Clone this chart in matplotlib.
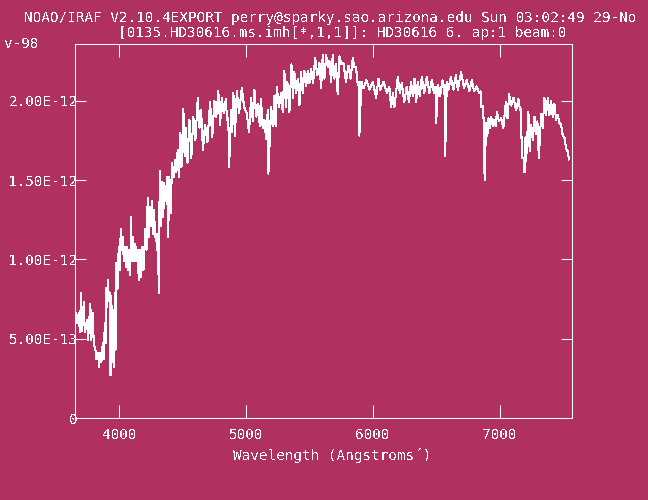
import matplotlib
matplotlib.use('Agg')
import matplotlib.pyplot as plt

# spectrum (wavelength in Angstroms, flux in units of 1e-12)
wave = [
    3658, 3666, 3680, 3688, 3698, 3706, 3719, 3727, 3745, 3753,
    3771, 3779, 3790, 3798, 3811, 3819, 3832, 3840, 3850, 3858,
    3869, 3877, 3885, 3891, 3897, 3904, 3911, 3917, 3924, 3930,
    3937, 3943, 3950, 3957, 3964, 3970, 3976, 3985, 3995, 4003,
    4011, 4019, 4027, 4035, 4043, 4051, 4061, 4069, 4079, 4085,
    4092, 4100, 4108, 4116, 4126, 4135, 4145, 4153, 4161, 4169,
    4179, 4190, 4205, 4214, 4224, 4232, 4240, 4248, 4258, 4266,
    4274, 4282, 4290, 4297, 4305, 4311, 4319, 4328, 4337, 4346,
    4355, 4365, 4376, 4385, 4395, 4405, 4416, 4428, 4442, 4450,
    4460, 4469, 4479, 4490, 4505, 4515, 4526, 4538, 4553, 4568,
    4584, 4600, 4619, 4632, 4645, 4660, 4676, 4695, 4716, 4733,
    4750, 4765, 4781, 4795, 4808, 4824, 4840, 4850, 4860, 4866,
    4882, 4891, 4900, 4912, 4927, 4945, 4966, 4985, 5006, 5023,
    5040, 5053, 5066, 5081, 5097, 5108, 5118, 5131, 5145, 5158,
    5171, 5176, 5197, 5210, 5223, 5233, 5242, 5259, 5276, 5289,
    5302, 5314, 5326, 5342, 5358, 5370, 5381, 5395, 5408, 5421,
    5434, 5447, 5460, 5474, 5487, 5500, 5513, 5529, 5545, 5562,
    5579, 5592, 5605, 5618, 5632, 5645, 5658, 5671, 5684, 5697,
    5710, 5723, 5737, 5752, 5768, 5788, 5808, 5825, 5842, 5855,
    5868, 5881, 5890, 5894, 5910, 5926, 5950, 5973, 6000, 6026,
    6045, 6058, 6085, 6111, 6130, 6145, 6160, 6171, 6197, 6213,
    6229, 6248, 6268, 6285, 6302, 6316, 6329, 6342, 6355, 6371,
    6387, 6406, 6426, 6446, 6466, 6483, 6496, 6500, 6515, 6531,
    6550, 6565, 6568, 6571, 6584, 6597, 6616, 6636, 6655, 6671,
    6697, 6720, 6742, 6762, 6781, 6800, 6821, 6838, 6850, 6855,
    6868, 6872, 6879, 6882, 6894, 6904, 6913, 6924, 6934, 6947,
    6960, 6970, 6979, 6996, 7013, 7030, 7050, 7063, 7076, 7093,
    7110, 7130, 7149, 7162, 7170, 7176, 7190, 7197, 7205, 7210,
    7228, 7238, 7250, 7263, 7276, 7288, 7299, 7310, 7329, 7341,
    7354, 7367, 7381, 7394, 7407, 7420, 7433, 7446, 7460, 7473,
    7486, 7499, 7512, 7525, 7539, 7548,
]
flux = [
    0.66, 0.60, 0.66, 0.54, 0.79, 0.55, 0.73, 0.54, 0.62, 0.49,
    0.72, 0.49, 0.66, 0.47, 0.43, 0.37, 0.41, 0.32, 0.41, 0.35,
    0.47, 0.37, 0.60, 0.47, 0.82, 0.70, 0.87, 0.74, 0.79, 0.27,
    0.77, 0.35, 0.68, 0.32, 0.79, 0.43, 0.98, 0.81, 1.08, 0.93,
    1.19, 1.06, 1.14, 0.99, 1.08, 0.95, 1.08, 0.93, 1.06, 0.90,
    1.27, 0.99, 1.14, 0.99, 1.10, 0.99, 1.06, 0.87, 1.06, 0.89,
    1.08, 0.93, 1.19, 1.06, 1.39, 1.14, 1.33, 1.21, 1.37, 1.16,
    1.31, 1.14, 1.16, 1.06, 1.16, 0.79, 1.56, 1.21, 1.49, 1.27,
    1.48, 1.37, 1.52, 1.14, 1.52, 1.29, 1.61, 1.52, 1.63, 1.55,
    1.69, 1.52, 1.80, 1.58, 1.95, 1.65, 1.83, 1.61, 1.88, 1.64,
    1.90, 1.75, 2.02, 1.83, 1.94, 1.69, 1.85, 1.74, 1.99, 1.77,
    2.00, 1.90, 2.06, 1.85, 2.02, 1.92, 2.01, 1.88, 1.89, 1.58,
    1.94, 1.80, 2.05, 1.78, 2.06, 1.92, 2.08, 1.96, 1.92, 1.80,
    2.02, 1.87, 2.07, 1.90, 1.98, 1.84, 2.01, 1.83, 1.88, 1.76,
    1.94, 1.54, 1.96, 1.84, 2.03, 1.84, 2.09, 1.96, 2.05, 1.93,
    2.19, 1.96, 2.12, 1.93, 2.23, 2.02, 2.18, 2.05, 2.14, 1.97,
    2.18, 2.05, 2.19, 2.09, 2.19, 2.11, 2.20, 2.11, 2.27, 2.16,
    2.24, 2.08, 2.29, 2.14, 2.29, 2.21, 2.25, 2.12, 2.29, 2.14,
    2.23, 2.04, 2.28, 2.23, 2.24, 2.12, 2.22, 2.14, 2.27, 2.21,
    2.21, 2.10, 2.12, 1.78, 2.12, 2.08, 2.13, 2.07, 2.12, 2.02,
    2.14, 2.07, 2.12, 2.05, 2.09, 1.96, 2.05, 1.96, 2.15, 2.05,
    2.11, 1.99, 2.09, 1.99, 2.12, 2.03, 2.14, 1.99, 2.12, 2.03,
    2.15, 2.05, 2.15, 2.05, 2.13, 2.05, 2.09, 1.86, 2.10, 2.03,
    2.13, 2.04, 2.10, 1.65, 2.12, 2.07, 2.15, 2.07, 2.16, 2.07,
    2.18, 2.08, 2.13, 2.06, 2.13, 2.06, 2.09, 2.05, 2.06, 1.96,
    1.97, 1.89, 1.89, 1.50, 1.86, 1.78, 1.89, 1.83, 1.90, 1.84,
    1.88, 1.84, 1.93, 1.87, 1.89, 1.83, 1.99, 1.89, 2.04, 1.97,
    2.02, 1.94, 2.01, 1.94, 1.95, 1.64, 1.64, 1.55, 1.77, 1.62,
    1.93, 1.68, 1.85, 1.75, 1.90, 1.79, 1.87, 1.64, 1.92, 1.83,
    2.02, 1.91, 2.02, 1.91, 2.00, 1.90, 1.98, 1.88, 1.91, 1.86,
    1.85, 1.78, 1.77, 1.70, 1.68, 1.63,
]

xticks = [4000, 5000, 6000, 7000]
yticks = [0, 0.5, 1.0, 1.5, 2.0]
ytick_labels = ['0', '5.00E-13', '1.00E-12', '1.50E-12', '2.00E-12']

title1 = 'NOAO/IRAF V2.10.4EXPORT perry@sparky.sao.arizona.edu Sun 03:02:49 29-No'
title2 = '[0135.HD30616.ms.imh[*,1,1]]: HD30616 6. ap:1 beam:0'
title3 = 'v-98'
xlab = 'Wavelength (Angstroms\u00b4)'

bg = '#b03060'
fg = 'white'
fs = 10.4

plt.rcParams['font.family'] = ['DejaVu Sans Mono']
plt.rcParams['text.antialiased'] = False

W, H = 648, 500
fig = plt.figure(figsize=(6.48, 5.0), dpi=100, facecolor=bg)
ax = fig.add_axes([75 / W, 1 - 418 / H, (572 - 75) / W, (418 - 44) / H])
ax.set_facecolor(bg)

ax.plot(wave, flux, color=fg, lw=0.75, antialiased=False)

ax.set_xlim(3650, 7572)
ax.set_ylim(0, 2.358)
ax.set_xticks(xticks)
ax.set_xticklabels([str(t) for t in xticks])
ax.set_yticks(yticks)
ax.set_yticklabels(ytick_labels)

for s in ax.spines.values():
    s.set_color(fg)
    s.set_linewidth(0.75)
ax.tick_params(axis='x', direction='in', length=9.5, width=0.75, color=fg,
               labelcolor=fg, labelsize=fs, top=True, pad=7)
ax.tick_params(axis='y', direction='in', length=8.2, width=0.75, color=fg,
               labelcolor=fg, labelsize=fs, right=True, pad=-2)
ax.minorticks_off()

fig.text(24 / W, 1 - 18 / H, title1, color=fg, fontsize=fs, ha='left', va='center')
fig.text(118 / W, 1 - 33 / H, title2, color=fg, fontsize=fs, ha='left', va='center')
fig.text(4 / W, 1 - 44 / H, title3, color=fg, fontsize=fs, ha='left', va='center')
fig.text(332 / W, 1 - 456 / H, xlab, color=fg, fontsize=fs, ha='center', va='center')

fig.savefig('out.png', dpi=100, facecolor=bg)
